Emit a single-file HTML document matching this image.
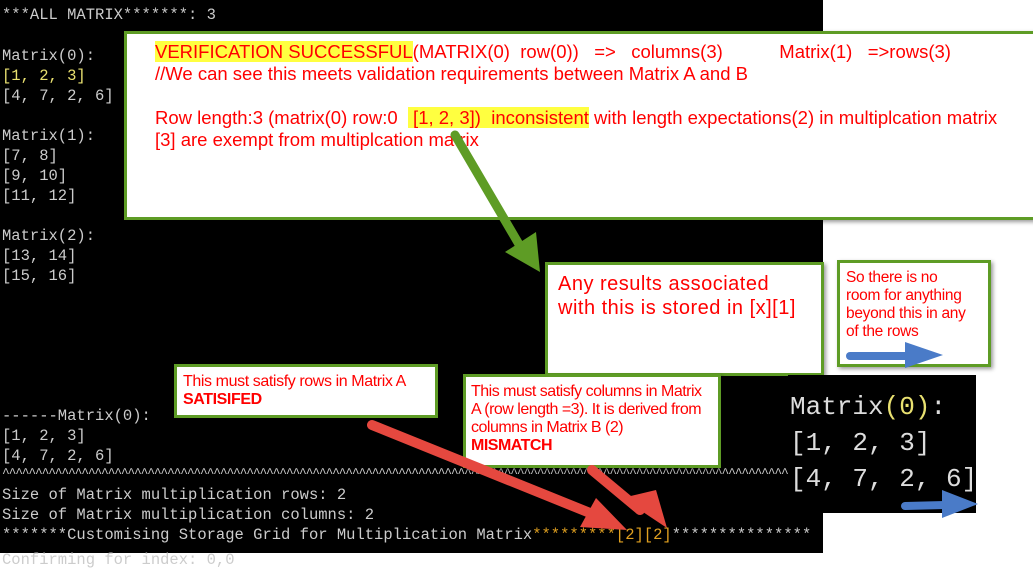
<!DOCTYPE html>
<html><head><meta charset="utf-8"><style>
body{margin:0;width:1033px;height:553px;overflow:hidden;background:#fff;position:relative;font-family:"Liberation Sans",sans-serif}
.term{position:absolute;left:0;top:0;width:823px;height:553px;background:#000}
.t{position:absolute;left:2px;font-family:"Liberation Mono",monospace;font-size:15.5px;color:#ccc;white-space:pre;line-height:20px}
.box{position:absolute;background:#fff;border:3px solid #5e9c25;box-sizing:border-box;color:#f00;box-shadow:2px 2px 4px rgba(0,0,0,.4)}
.hl{background:#ffff40}
</style></head><body>
<div class="term"></div>
<div style="position:absolute;left:823px;top:0;width:210px;height:375px;background:#fff"></div>
<div class="t" style="top:5px">***ALL MATRIX*******: 3</div>
<div class="t" style="top:46px">Matrix(0):</div>
<div class="t" style="top:66px;color:#e8e070">[1, 2, 3]</div>
<div class="t" style="top:86px">[4, 7, 2, 6]</div>
<div class="t" style="top:126px">Matrix(1):</div>
<div class="t" style="top:146px">[7, 8]</div>
<div class="t" style="top:166px">[9, 10]</div>
<div class="t" style="top:186px">[11, 12]</div>
<div class="t" style="top:226px">Matrix(2):</div>
<div class="t" style="top:246px">[13, 14]</div>
<div class="t" style="top:266px">[15, 16]</div>
<div class="t" style="top:406px">------Matrix(0):</div>
<div class="t" style="top:426px">[1, 2, 3]</div>
<div class="t" style="top:446px">[4, 7, 2, 6]</div>
<div class="t" style="top:464px;font-size:13px;letter-spacing:-1.2px">^^^^^^^^^^^^^^^^^^^^^^^^^^^^^^^^^^^^^^^^^^^^^^^^^^^^^^^^^^^^^^^^^^^^^^^^^^^^^^^^^^^^^^^^^^^^^^^^^^^^^^^^^^^^^^^^^^^^^^^^^^^^</div>
<div class="t" style="top:485px">Size of Matrix multiplication rows: 2</div>
<div class="t" style="top:505px">Size of Matrix multiplication columns: 2</div>
<div class="t" style="top:525px">*******Customising Storage Grid for Multiplication Matrix<span style="color:#e0a020">*********[2][2]</span>***************</div>
<div class="t" style="top:550px">Confirming for index: 0,0</div>

<div class="box" style="left:124px;top:31px;width:915px;height:189px;font-size:18.5px;line-height:22px;padding:7px 0 0 28px">
<div><span class="hl">VERIFICATION SUCCESSFUL</span>(MATRIX(0)&nbsp; row(0))&nbsp;&nbsp; =&gt;&nbsp;&nbsp; columns(3)&nbsp;&nbsp;&nbsp;&nbsp;&nbsp;&nbsp;&nbsp;&nbsp;&nbsp;&nbsp; Matrix(1)&nbsp;&nbsp; =&gt;rows(3)</div>
<div>//We can see this meets validation requirements between Matrix A and B</div>
<div>&nbsp;</div>
<div>Row length:3 (matrix(0) row:0 &nbsp;<span class="hl">&nbsp;[1, 2, 3])&nbsp; inconsistent</span> with length expectations(2) in multiplcation matrix</div>
<div>[3] are exempt from multiplcation matrix</div>
</div>

<div class="box" style="left:545px;top:262px;width:279px;height:114px;font-size:20px;letter-spacing:0.5px;line-height:24px;padding:7px 0 0 10px">Any results associated<br>with this is stored in [x][1]</div>
<div class="box" style="left:837px;top:260px;width:154px;height:107px;font-size:15.5px;line-height:18px;padding:6px 0 0 6px;letter-spacing:-0.3px">So there is no<br>room for anything<br>beyond this in any<br>of the rows</div>
<div class="box" style="left:174px;top:364px;width:264px;height:54px;font-size:16px;line-height:18px;padding:6px 0 0 6px;letter-spacing:-0.4px">This must satisfy rows in Matrix A<br><b>SATISIFED</b></div>
<div class="box" style="left:463px;top:374px;width:258px;height:94px;font-size:16px;line-height:18px;padding:6px 0 0 5px;letter-spacing:-0.5px">This must satisfy columns in Matrix<br>A (row length =3). It is derived from<br>columns in Matrix B (2)<br><b>MISMATCH</b></div>

<div style="position:absolute;left:788px;top:375px;width:188px;height:138px;background:#000;font-family:'Liberation Mono',monospace;font-size:26px;line-height:36px;color:#ddd;padding:14px 0 0 2px;box-sizing:border-box;white-space:pre">Matrix<span style="color:#e8e070">(0)</span>:
[1, 2, 3]
[4, 7, 2, 6]</div>

<svg style="position:absolute;left:0;top:0" width="1033" height="553">
<line x1="455" y1="135" x2="520" y2="246" stroke="#5e9c25" stroke-width="9" stroke-linecap="round"/>
<polygon points="505,252 540,272 536,232" fill="#5e9c25"/>
<line x1="850" y1="356" x2="910" y2="356" stroke="#4a7bc8" stroke-width="8" stroke-linecap="round"/>
<polygon points="905,342 943,355 905,368" fill="#4a7bc8"/>
<line x1="905" y1="506" x2="945" y2="505" stroke="#4a7bc8" stroke-width="8" stroke-linecap="round"/>
<polygon points="942,490 978,504 942,518" fill="#4a7bc8"/>
<line x1="372" y1="425" x2="590" y2="513" stroke="#e5483f" stroke-width="10" stroke-linecap="round"/>
<polygon points="596,498 627,530 580,527" fill="#e5483f"/>
<line x1="592" y1="470" x2="640" y2="510" stroke="#e5483f" stroke-width="10" stroke-linecap="round"/>
<polygon points="622,498 667,528 656,490" fill="#e5483f"/>
</svg>
</body></html>
